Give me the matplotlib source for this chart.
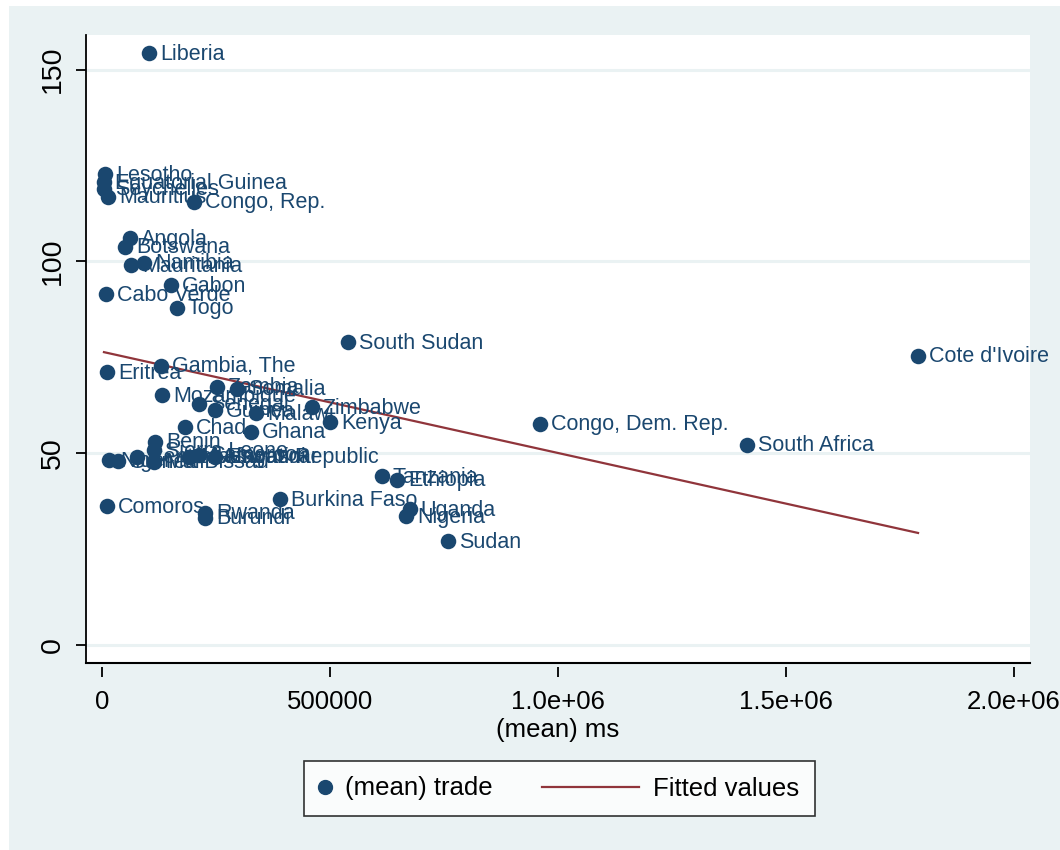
import matplotlib
matplotlib.use("Agg")
import matplotlib.pyplot as plt
import numpy as np
from matplotlib.lines import Line2D
from matplotlib.patches import Rectangle
from matplotlib.legend_handler import HandlerLine2D

plt.rcParams['font.family'] = ['Liberation Sans', 'DejaVu Sans']

# data: (mean) ms vs (mean) trade, by country
countries = ["Liberia", "Lesotho", "Equatorial Guinea", "Seychelles", "Mauritius",
             "Congo, Rep.", "Angola", "Botswana", "Namibia", "Mauritania",
             "Gabon", "Cabo Verde", "Togo", "South Sudan", "Cote d'Ivoire",
             "Gambia, The", "Eritrea", "Zambia", "Somalia", "Mozambique",
             "Senegal", "Guinea", "Malawi", "Zimbabwe", "Kenya",
             "Chad", "Ghana", "Congo, Dem. Rep.", "South Africa", "Benin",
             "Sierra Leone", "Niger", "Guinea-Bissau", "Central African Republic", "Mali",
             "Madagascar", "Cameroon", "Eswatini", "Tanzania", "Ethiopia",
             "Burkina Faso", "Uganda", "Nigeria", "Sudan", "Comoros",
             "Rwanda", "Burundi"]
ms = [103000, 6600, 4400, 4400, 13200,
      201800, 61400, 50400, 92100, 63600,
      151300, 8800, 164500, 539500, 1789500,
      129400, 11000, 252200, 296000, 131600,
      212700, 247800, 337700, 460500, 500000,
      182000, 326700, 960500, 1414500, 116200,
      114000, 15400, 35100, 76800, 114000,
      190800, 212700, 247800, 614000, 647000,
      390400, 675400, 666700, 758800, 11000,
      225900, 225900]
trade = [154.2, 122.7, 120.6, 119.0, 116.9,
         115.6, 106.0, 103.9, 99.7, 99.0,
         93.75, 91.4, 88.0, 78.9, 75.3,
         72.9, 71.1, 67.4, 66.9, 65.1,
         62.8, 61.2, 60.4, 62.0, 58.1,
         56.8, 55.5, 57.6, 52.3, 53.1,
         50.8, 48.2, 47.9, 49.0, 47.7,
         49.0, 49.7, 49.0, 44.0, 43.0,
         38.0, 35.4, 33.6, 27.1, 36.2,
         34.6, 33.1]

xticks = [0, 500000, 1000000, 1500000, 2000000]
xticklabels = ["0", "500000", "1.0e+06", "1.5e+06", "2.0e+06"]
yticks = [0, 50, 100, 150]

navy = "#1A476F"
maroon = "#90353B"
bg = "#EAF2F3"

x = np.array(ms, dtype=float)
y = np.array(trade)
b, a = np.polyfit(x, y, 1)
xfit = np.array([x.min(), x.max()])
yfit = a + b * xfit

fig = plt.figure(figsize=(10.6, 8.5), dpi=100, facecolor="white")
fig.patches.append(Rectangle((9 / 1060, 0), 1, 1 - 6 / 850, transform=fig.transFigure,
                             facecolor=bg, edgecolor="none", zorder=-10))
ax = fig.add_axes([86 / 1060, 1 - 663 / 850, (1030 - 86) / 1060, (663 - 35) / 850])
ax.set_facecolor("white")

ax.scatter(x, y, s=125, color=navy, zorder=3, label="(mean) trade", linewidths=0)
for name, xi, yi in zip(countries, x, y):
    ax.annotate(name, (xi, yi), xytext=(7.8, -0.5), textcoords="offset points",
                ha="left", va="center", fontsize=15.5, color=navy, zorder=4)
ax.plot(xfit, yfit, color=maroon, lw=1.6, zorder=2, label="Fitted values")

ax.set_xlim(-35000, 2035000)
ax.set_ylim(-4.6, 159)
for yt in yticks:
    ax.axhline(yt, color=bg, lw=2.2, zorder=0)

ax.set_xticks(xticks)
ax.set_xticklabels(xticklabels)
ax.set_yticks(yticks)
ax.tick_params(axis="both", labelsize=18.5, width=1.3, length=7.3, color="black")
ax.tick_params(axis="x", pad=9)
ax.tick_params(axis="y", pad=7, labelsize=20.5)
plt.setp(ax.get_yticklabels(), rotation=90, va="center")

for s in ["top", "right"]:
    ax.spines[s].set_visible(False)
ax.spines["left"].set_linewidth(1.3)
ax.spines["bottom"].set_position(("outward", 3))
ax.spines["bottom"].set_visible(False)
ax.add_line(Line2D([0, 1], [0, 0], transform=ax.transAxes, color="black",
                   lw=1.5, clip_on=False, zorder=5))

ax.set_xlabel("(mean) ms", fontsize=18.5, labelpad=3)


class LongLine(HandlerLine2D):
    def create_artists(self, legend, orig_handle, xdescent, ydescent, width, height,
                       fontsize, trans):
        arts = super().create_artists(legend, orig_handle, xdescent, ydescent, width,
                                      height, fontsize, trans)
        yd = arts[0].get_ydata()[0]
        arts[0].set_data([-xdescent - 62, width - xdescent], [yd, yd])
        return arts


h1 = Line2D([], [], marker="o", ls="none", color=navy, markersize=10)
h2 = Line2D([], [], color=maroon, lw=1.6)
leg = fig.legend([h1, h2], ["(mean) trade", "Fitted values"], loc="center",
                 bbox_to_anchor=(559.5 / 1060, 1 - 788.5 / 850), ncol=2,
                 fontsize=18.5, frameon=True, fancybox=False, edgecolor="black",
                 handlelength=0.4, handletextpad=0.55, columnspacing=5.3,
                 borderpad=0.62, handler_map={h2: LongLine()})
leg.get_frame().set_linewidth(1.2)

fig.savefig("out.png", dpi=100, facecolor="white")
